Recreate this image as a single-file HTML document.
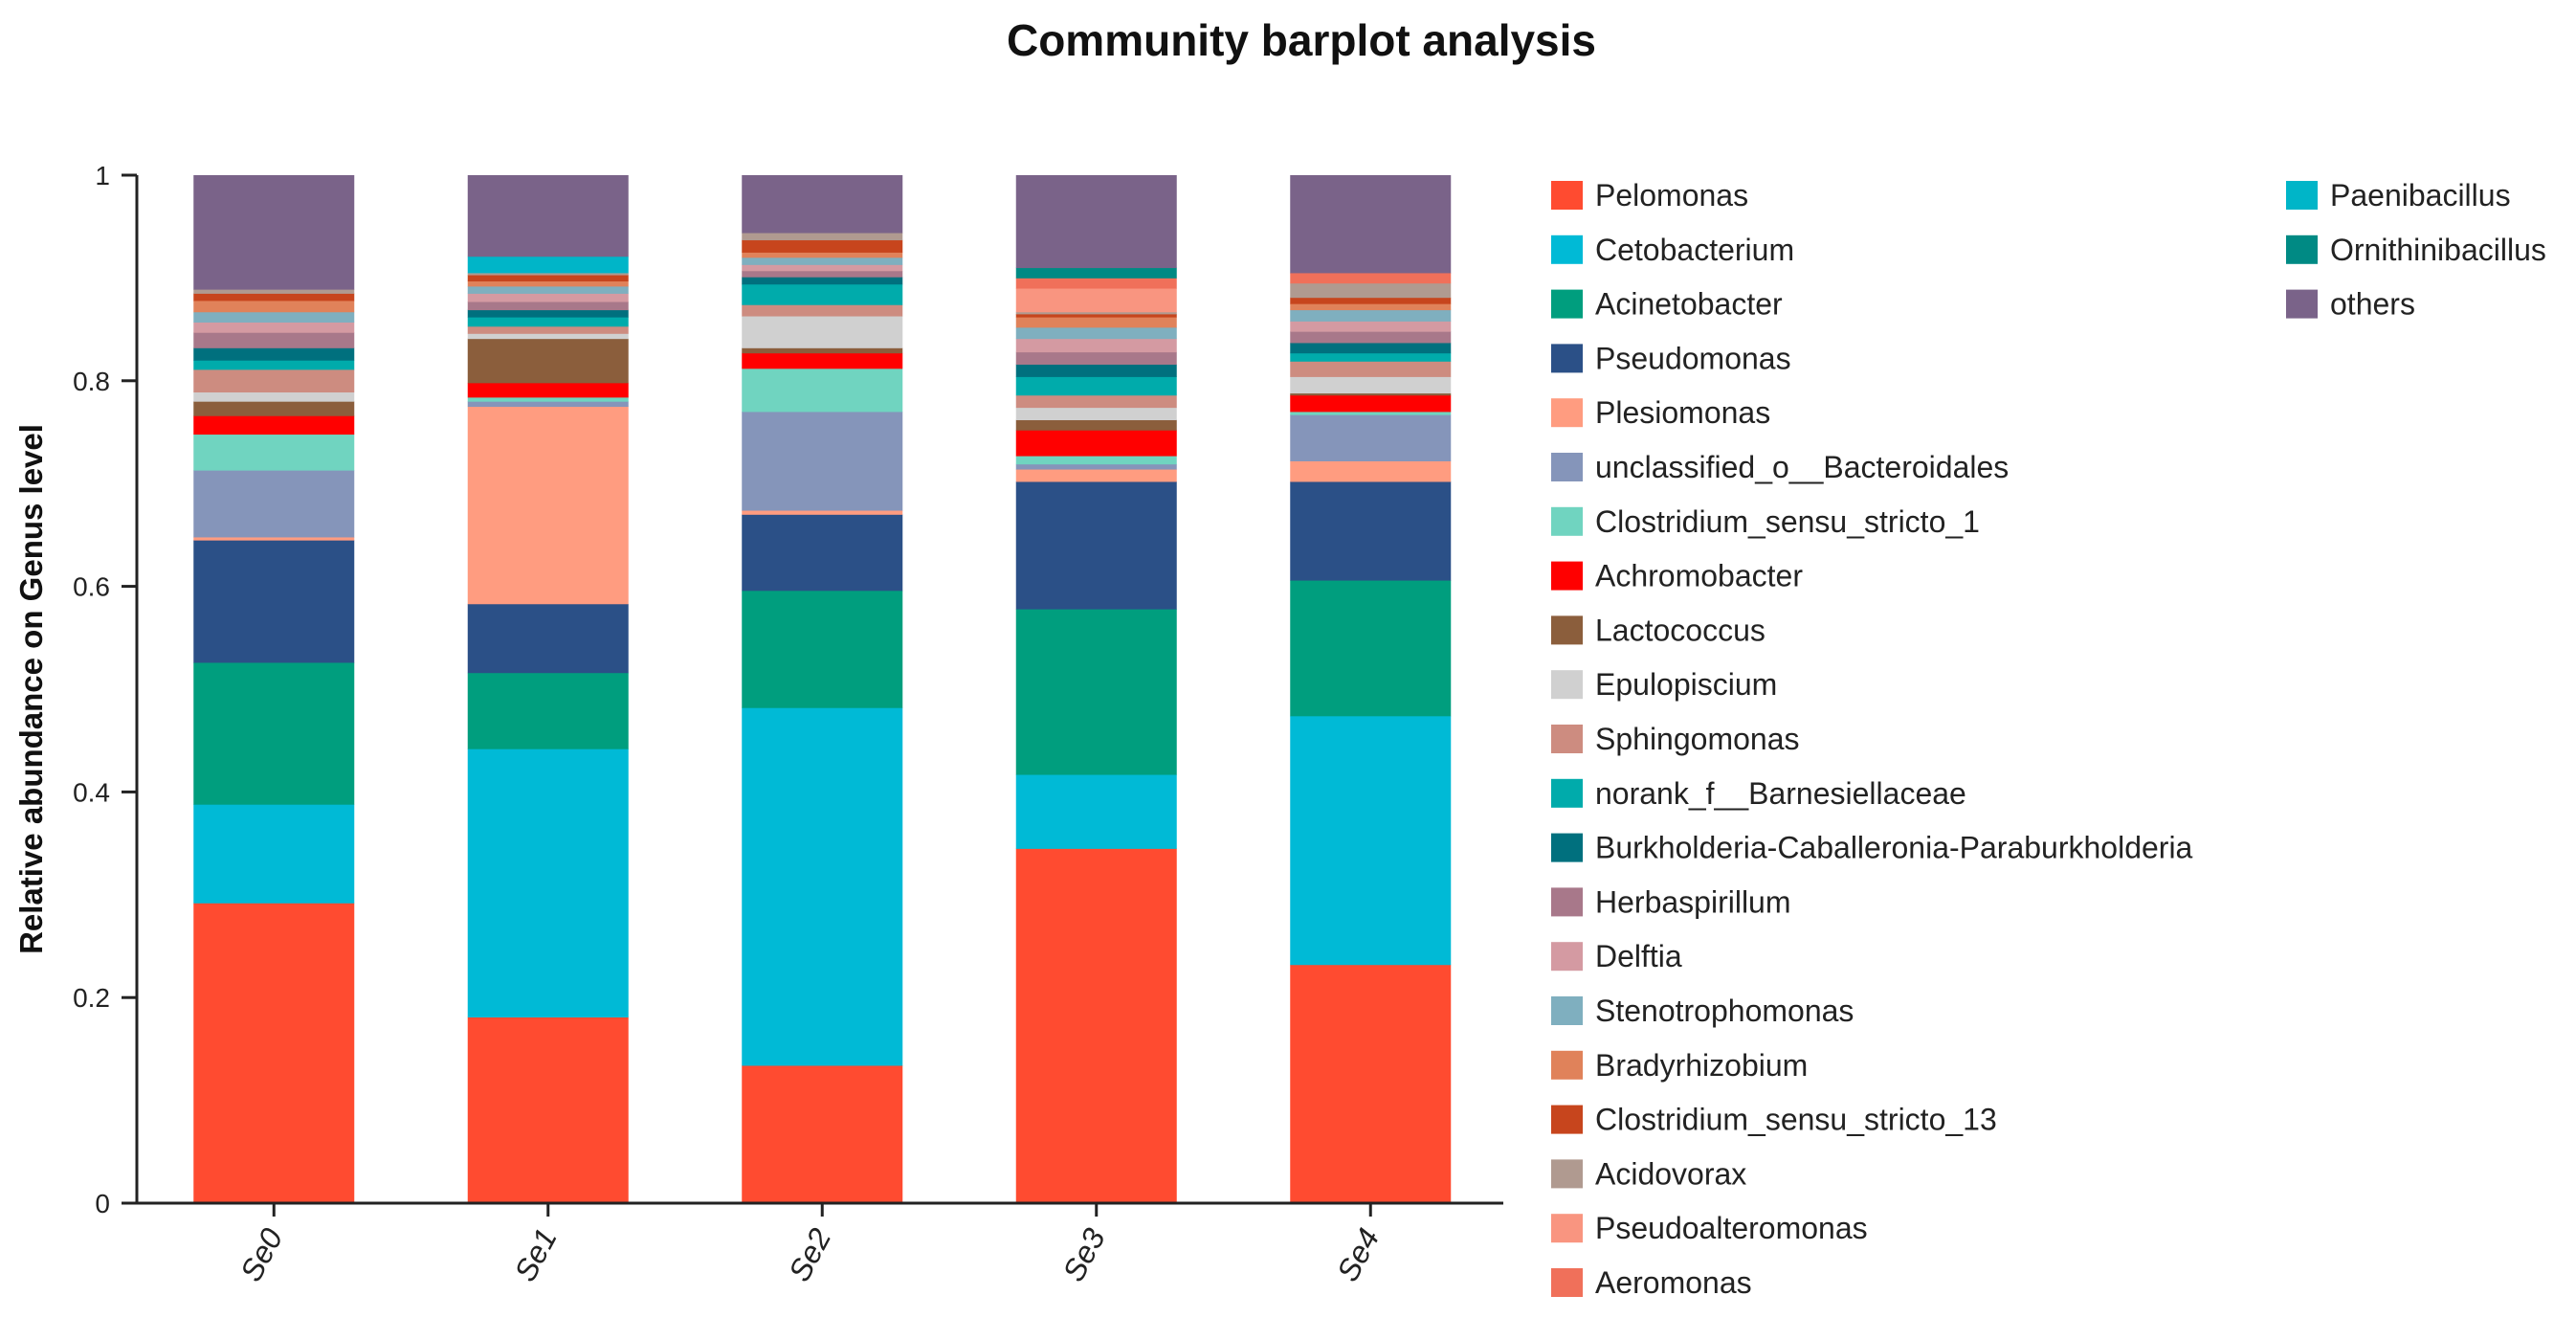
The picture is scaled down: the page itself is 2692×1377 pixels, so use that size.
<!DOCTYPE html>
<html><head><meta charset="utf-8"><style>
html,body{margin:0;padding:0;background:#fff;}
svg{display:block;font-family:"Liberation Sans",Arial,sans-serif;}
</style></head><body>
<svg id="chart" width="2692" height="1377" viewBox="0 0 2692 1377" xmlns="http://www.w3.org/2000/svg">
<text x="1360" y="58" text-anchor="middle" font-size="46" font-weight="bold" fill="#111">Community barplot analysis</text>
<text transform="translate(44,720) rotate(-90)" text-anchor="middle" font-size="33" font-weight="bold" fill="#111">Relative abundance on Genus level</text>
<g id="bars"></g>
<g id="axes"></g>
<g id="legend"></g>
</svg>
<script>
const samples = ["Se0","Se1","Se2","Se3","Se4"];
const taxa = ["Pelomonas","Cetobacterium","Acinetobacter","Pseudomonas","Plesiomonas","unclassified_o__Bacteroidales","Clostridium_sensu_stricto_1","Achromobacter","Lactococcus","Epulopiscium","Sphingomonas","norank_f__Barnesiellaceae","Burkholderia-Caballeronia-Paraburkholderia","Herbaspirillum","Delftia","Stenotrophomonas","Bradyrhizobium","Clostridium_sensu_stricto_13","Acidovorax","Pseudoalteromonas","Aeromonas","Paenibacillus","Ornithinibacillus","others"];
const colors = ["#FF4B30","#00BAD6","#009E7E","#2B5087","#FF9C80","#8595BA","#70D4C0","#FF0000","#8B5E3C","#D0D0D0","#CD8C80","#00ABAB","#00707E","#A8788A","#D49AA2","#7FAFBF","#E0825A","#C7451D","#B09A90","#F99580","#F0705A","#00B5C8","#008A84","#7A6389"];
const valSe0 = [0.292,0.096,0.138,0.119,0.003,0.065,0.035,0.018,0.014,0.009,0.022,0.009,0.012,0.015,0.010,0.010,0.011,0.007,0.004,0,0,0,0,0.111];
const valSe1 = [0.181,0.261,0.074,0.067,0.192,0.005,0.004,0.014,0.043,0.005,0.007,0.009,0.007,0.008,0.008,0.007,0.005,0.006,0.002,0,0,0.016,0,0.079];
const valSe2 = [0.134,0.348,0.114,0.074,0.004,0.096,0.042,0.015,0.005,0.031,0.011,0.020,0.007,0.006,0.006,0.007,0.005,0.012,0.007,0,0,0,0,0.056];
const valSe3 = [0.345,0.072,0.161,0.124,0.012,0.005,0.008,0.025,0.010,0.012,0.012,0.018,0.012,0.012,0.013,0.011,0.010,0.003,0.002,0.023,0.010,0,0.010,0.090];
const valSe4 = [0.232,0.242,0.132,0.096,0.020,0.045,0.003,0.016,0.002,0.016,0.015,0.008,0.010,0.011,0.010,0.011,0.006,0.006,0.014,0,0.010,0,0,0.095];
const seriesValues = [valSe0,valSe1,valSe2,valSe3,valSe4];
const yTicks = [0,0.2,0.4,0.6,0.8,1];
const yTickLabels = ["0","0.2","0.4","0.6","0.8","1"];

const NS="http://www.w3.org/2000/svg";
const Y0=1257, Y1=183, AX=143, XL=127, XR=1571;
const slotStart=143, slotW=286.5, barW=168;
function y(v){return Y0-(Y0-Y1)*v;}
function xc(i){return slotStart+slotW*(i+0.5);}
function mk(tag,attrs,parent){const e=document.createElementNS(NS,tag);for(const k in attrs)e.setAttribute(k,attrs[k]);parent.appendChild(e);return e;}

const gb=document.getElementById('bars');
samples.forEach((s,i)=>{
  let cum=0;
  seriesValues[i].forEach((v,j)=>{
    if(v<=0)return;
    const r=mk('rect',{x:xc(i)-barW/2,y:y(cum+v),width:barW,height:y(cum)-y(cum+v)+0.4,fill:colors[j]},gb);
    
    
    cum+=v;
  });
});

const ga=document.getElementById('axes');
let l=mk('line',{x1:AX,y1:Y1,x2:AX,y2:Y0,stroke:'#222','stroke-width':3},ga);


l=mk('line',{x1:XL,y1:Y0,x2:XR,y2:Y0,stroke:'#222','stroke-width':3},ga);


yTicks.forEach((t,k)=>{
  const tk=mk('line',{x1:XL,y1:y(t),x2:AX,y2:y(t),stroke:'#222','stroke-width':3},ga);
  
  
  const tx=mk('text',{x:115,y:y(t)+10,'text-anchor':'end','font-size':28,fill:'#222'},ga);
  tx.textContent=yTickLabels[k];
  
  
});
samples.forEach((s,i)=>{
  const tk=mk('line',{x1:xc(i),y1:Y0,x2:xc(i),y2:Y0+14,stroke:'#222','stroke-width':3},ga);
  
  
  const tx=mk('text',{transform:`translate(${xc(i)+10},${Y0+34}) rotate(-62)`,'text-anchor':'end','font-size':32,'font-style':'italic',fill:'#222'},ga);
  tx.textContent=s;
  
  
});

const gl=document.getElementById('legend');
taxa.forEach((t,j)=>{
  const col=j<21?0:1, row=j<21?j:j-21;
  const lx=col===0?1621:2389, cy=204+row*56.8;
  const g=mk('g',{},gl);
  
  
  mk('rect',{x:lx,y:cy-15,width:33,height:30,fill:colors[j]},g);
  const tx=mk('text',{x:lx+46,y:cy+11,'font-size':32,fill:'#222'},g);
  tx.textContent=t;
});
</script>
</body></html>
